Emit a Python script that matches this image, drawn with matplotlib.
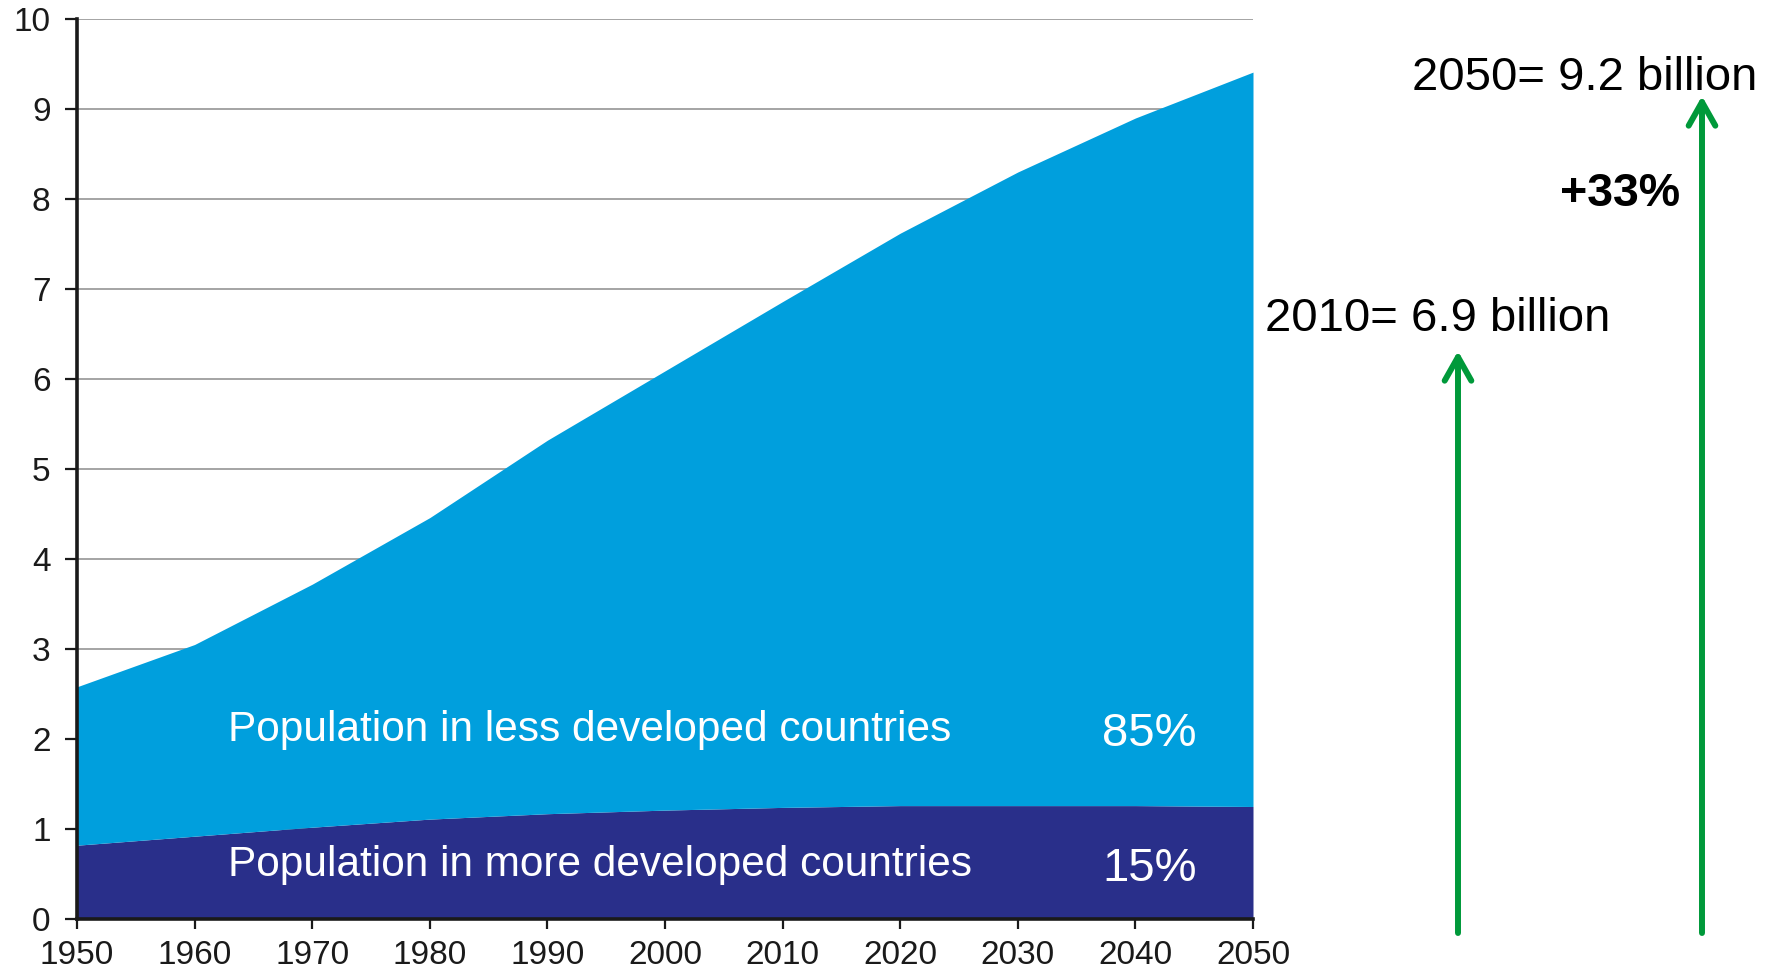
import matplotlib.pyplot as plt

plt.rcParams['font.family'] = ['Liberation Sans', 'DejaVu Sans']

# 世界人口（10億人）
years = [1950, 1960, 1970, 1980, 1990, 2000, 2010, 2020, 2030, 2040, 2050]
total = [2.58, 3.05, 3.72, 4.46, 5.32, 6.09, 6.86, 7.62, 8.30, 8.90, 9.41]
more_developed = [0.82, 0.92, 1.02, 1.11, 1.17, 1.21, 1.24, 1.26, 1.26, 1.26, 1.25]

y_ticks = list(range(0, 11))
x_ticks = years

light_blue = '#009fdd'
navy = '#292f8a'
green = '#00993a'

fig = plt.figure(figsize=(17.79, 9.72), dpi=100)
ax = fig.add_axes([77 / 1779, 53 / 972, 1176 / 1779, 900 / 972])

# 積み上げ面グラフ
ax.fill_between(years, 0, more_developed, color=navy, linewidth=0, zorder=2)
ax.fill_between(years, more_developed, total, color=light_blue, linewidth=0, zorder=2)

ax.set_xlim(1950, 2050)
ax.set_ylim(0, 10)
ax.set_xticks(x_ticks)
ax.set_yticks(y_ticks)
ax.yaxis.grid(True, color='#8c8c8c', linewidth=1.1, zorder=1)
ax.set_axisbelow(True)

for side in ['top', 'right']:
    ax.spines[side].set_visible(False)
for side in ['left', 'bottom']:
    ax.spines[side].set_linewidth(2.6)
    ax.spines[side].set_color('#1a1a1a')
    ax.spines[side].set_zorder(3)

ax.tick_params(axis='y', length=9, width=1.6, pad=10, labelsize=24, colors='#1a1a1a')
ax.tick_params(axis='x', length=7, width=1.6, pad=8, labelsize=24, colors='#1a1a1a')

# 面の中のラベル
ax.text(1962.8, 2.1, 'Population in less developed countries', color='white',
        fontsize=30.5, va='center', ha='left', zorder=4)
ax.text(1962.8, 0.6, 'Population in more developed countries', color='white',
        fontsize=30.5, va='center', ha='left', zorder=4)
ax.text(2045.2, 2.06, '85%', color='white', fontsize=34, va='center', ha='right', zorder=4)
ax.text(2045.2, 0.56, '15%', color='white', fontsize=34, va='center', ha='right', zorder=4)

# 右側の注記と矢印
fig.text(1412 / 1779, 1 - 90 / 972, '2050= 9.2 billion', fontsize=34, va='baseline', ha='left')
fig.text(1265 / 1779, 1 - 331 / 972, '2010= 6.9 billion', fontsize=34, va='baseline', ha='left')
fig.text(1560 / 1779, 1 - 194 / 972, '+33%', fontsize=33.5, fontweight='bold', va='center', ha='left')

arrow_style = dict(arrowstyle='->, head_length=0.85, head_width=0.48', color=green,
                   lw=4.3, mutation_scale=20, shrinkA=0, shrinkB=0, capstyle='round')
fig.add_artist(plt.matplotlib.patches.FancyArrowPatch(
    (1458 / 1779, 1 - 933 / 972), (1458 / 1779, 1 - 351 / 972),
    transform=fig.transFigure, **arrow_style))
fig.add_artist(plt.matplotlib.patches.FancyArrowPatch(
    (1702 / 1779, 1 - 933 / 972), (1702 / 1779, 1 - 96 / 972),
    transform=fig.transFigure, **arrow_style))

fig.savefig('out.png', dpi=100)
